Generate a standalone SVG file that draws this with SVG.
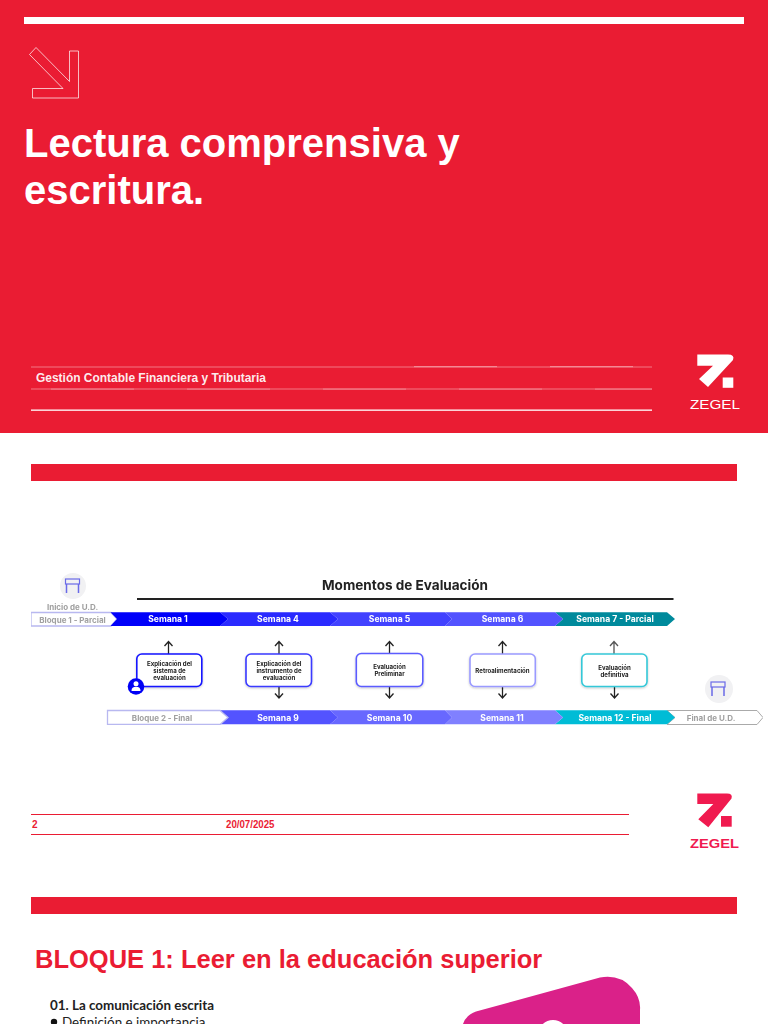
<svg xmlns="http://www.w3.org/2000/svg" width="768" height="1024" viewBox="0 0 768 1024">
<style>
.a{font-family:"Liberation Sans",Arial,sans-serif;font-weight:700}
.m{font-family:Inter,"Open Sans",sans-serif;font-weight:700;text-anchor:middle}
.w{fill:#fff;font-size:8.6px}
.g{fill:#a0a0a0;font-size:8px}
.n{fill:#222;font-size:6.1px}
.box{fill:#fff;stroke-width:1.6}
.ar{fill:none;stroke:#222;stroke-width:1.3}
.c{font-family:Lato,"Open Sans",sans-serif;fill:#222}
</style>
<defs>
<filter id="sh" x="-20%" y="-20%" width="140%" height="150%"><feDropShadow dx="0" dy="1" stdDeviation="1" flood-color="#000" flood-opacity=".22"/></filter>
<filter id="bl" x="0" y="0" width="100%" height="100%"><feGaussianBlur stdDeviation="0.3"/></filter>
<g id="gate"><rect x="-7" y="-7" width="14" height="5" fill="none" stroke="#6a6ae8" stroke-width="1.2"/><path d="M-6-2V7M6-2V7" stroke="#6a6ae8" stroke-width="1.5" fill="none"/></g>
</defs>
<rect width="768" height="1024" fill="#fff"/>
<g id="portada">
<rect width="768" height="433" fill="#ea1c33"/>
<rect x="24" y="17" width="720" height="7" fill="#fff"/>
<path d="M29.5 54.5 36 47.5 69.5 81.5V51H78.5V98H32.5V88.5H63Z" fill="none" stroke="#fff" stroke-opacity=".7" stroke-width="1"/>
<text class="a" x="24" y="157" font-size="40" fill="#fff">Lectura comprensiva y</text>
<text class="a" x="24" y="204" font-size="40" fill="#fff">escritura.</text>
<g fill="#fff">
<rect x="31" y="366.5" width="621" height="1" opacity=".4"/>
<rect x="414" y="366" width="83" height="1.2" opacity=".35"/>
<rect x="550" y="366" width="83" height="1.2" opacity=".35"/>
<rect x="31" y="388.5" width="621" height="1" opacity=".4"/>
<rect x="51" y="388.5" width="83" height="1.2" opacity=".25"/>
<rect x="187" y="388.5" width="83" height="1.2" opacity=".25"/>
<rect x="323" y="388.5" width="83" height="1.2" opacity=".25"/>
<rect x="459" y="388.5" width="83" height="1.2" opacity=".25"/>
<rect x="595" y="388.5" width="57" height="1.2" opacity=".25"/>
<rect x="31" y="409.5" width="621" height="1.3"/>
</g>
<text class="a" x="36" y="382" font-size="12" fill="#fff" fill-opacity=".93" textLength="230" lengthAdjust="spacingAndGlyphs">Gestión Contable Financiera y Tributaria</text>
</g>
<g id="logo-blanco" fill="#fff">
<path d="M697.3 354.500H728Q735 354.500 733 360L708 387 699 379 713 365.700H697.300Z"/>
<rect x="722.7" y="377.5" width="10.6" height="10.3"/>
<text x="715" y="409" font-family="Liberation Sans, sans-serif" font-size="12.5" text-anchor="middle" textLength="50" lengthAdjust="spacingAndGlyphs">ZEGEL</text>
</g>
<g id="encabezado-2"><rect x="31" y="464" width="706" height="17" fill="#ea1c33"/></g>
<g id="momentos" filter="url(#bl)">
<text class="m" x="405" y="590" font-size="13.5" fill="#222" textLength="166" lengthAdjust="spacingAndGlyphs">Momentos de Evaluación</text>
<rect x="137" y="598" width="536.500" height="2" fill="#222"/>
<g id="inicio"><circle cx="73" cy="586" r="13" fill="#f1f1f3"/><use href="#gate" x="72.500" y="586"/><text class="m g" x="72.500" y="609.500">Inicio de U.D.</text></g>
<g id="final"><circle cx="719" cy="689" r="14" fill="#f1f1f3"/><use href="#gate" x="718" y="689"/></g>
<g id="fila-1">
<path d="M31 612.500H111L117 619 111 626H31Z" fill="#fff" stroke="#b8b8f0" stroke-width="1.300"/>
<text class="m g" x="72.500" y="622.500">Bloque 1 - Parcial</text>
<path d="M555 612.300H667L675 619 667 626H555L563 619Z" fill="#058a9c"/>
<path d="M445 612.300H555L563 619 555 626H445L452 619Z" fill="#5252ff"/>
<path d="M330 612.300H445L452 619 445 626H330L338 619Z" fill="#4343ff"/>
<path d="M220 612.300H330L338 619 330 626H220L228 619Z" fill="#2a2aff"/>
<path d="M110.500 612.300H220L228 619 220 626H110.500L117 619Z" fill="#0000fa"/>
<text class="m w" x="168" y="622">Semana 1</text>
<text class="m w" x="278" y="622">Semana 4</text>
<text class="m w" x="389.500" y="622">Semana 5</text>
<text class="m w" x="502.500" y="622">Semana 6</text>
<text class="m w" x="615" y="622">Semana 7 - Parcial</text>
</g>
<g id="fila-2">
<path d="M667 710.500H757L763 717.500 757 724.500H667L675 717.500Z" fill="#fff" stroke="#aaa"/>
<path d="M555 710.300H667L675 717.500 667 724.300H555L563 717.500Z" fill="#00bcd6"/>
<path d="M445 710.300H555L563 717.500 555 724.300H445L452 717.500Z" fill="#8080ff"/>
<path d="M330 710.300H445L452 717.500 445 724.300H330L338 717.500Z" fill="#6868ff"/>
<path d="M220 710.300H330L338 717.500 330 724.300H220L228 717.500Z" fill="#5252ff"/>
<path d="M107.500 710.500H220L228 717.500 220 724.500H107.500Z" fill="#fff" stroke="#b8b8f0" stroke-width="1.300"/>
<text class="m g" x="162" y="720.500">Bloque 2 - Final</text>
<text class="m w" x="278" y="720.500">Semana 9</text>
<text class="m w" x="389.500" y="721">Semana 10</text>
<text class="m w" x="502" y="720.500">Semana 11</text>
<text class="m w" x="615" y="720.500">Semana 12 - Final</text>
<text class="m g" x="711" y="720.500">Final de U.D.</text>
</g>
<g id="conectores" class="ar">
<path d="M168.500 654V642M164.500 646 168.500 641.500 172.500 646"/>
<path d="M279 654V642M275 646 279 641.500 283 646"/>
<path d="M389.500 653V642M385.500 646 389.500 641.500 393.500 646"/>
<path d="M502.500 654V642M498.500 646 502.500 641.500 506.500 646"/>
<path d="M614 654V642M610 646 614 641.500 618 646" stroke="#555"/>
<path d="M279 687V697.500M275 693.500 279 698 283 693.500"/>
<path d="M389.500 686V697.500M385.500 693.500 389.500 698 393.500 693.500"/>
<path d="M502.500 687V697.500M498.500 693.500 502.500 698 506.500 693.500"/>
<path d="M614.500 687V697.500M610.500 693.500 614.500 698 618.500 693.500"/>
</g>
<g id="n1"><rect class="box" x="136.800" y="654" width="65" height="32.500" rx="5" stroke="#1515ff" filter="url(#sh)"/><text class="m n" x="169.500" y="665.500">Explicación del</text><text class="m n" x="169.500" y="672.500">sistema de</text><text class="m n" x="169.500" y="679.500">evaluación</text>
<circle cx="136" cy="686.500" r="8.300" fill="#0000f5"/><circle cx="136" cy="683.800" r="2.500" fill="#fff"/><path d="M131.500 691Q131.500 686.800 136 686.800T140.500 691Z" fill="#fff"/></g>
<g id="n2"><rect class="box" x="246" y="654" width="65.500" height="32.500" rx="5" stroke="#3a3aff" filter="url(#sh)"/><text class="m n" x="279" y="665.500">Explicación del</text><text class="m n" x="279" y="672.500">instrumento de</text><text class="m n" x="279" y="679.500">evaluación</text></g>
<g id="n3"><rect class="box" x="356.300" y="653.500" width="66.500" height="33" rx="5" stroke="#5c5cff" filter="url(#sh)"/><text class="m n" x="389.500" y="669">Evaluación</text><text class="m n" x="389.500" y="676">Preliminar</text></g>
<g id="n4"><rect class="box" x="470" y="654" width="65.300" height="32.500" rx="5" stroke="#9a9aff" filter="url(#sh)"/><text class="m n" x="502.500" y="672.500">Retroalimentación</text></g>
<g id="n5"><rect class="box" x="581.800" y="654" width="65.200" height="32.500" rx="5" stroke="#35c8d8" filter="url(#sh)"/><text class="m n" x="614.500" y="669.500">Evaluación</text><text class="m n" x="614.500" y="676.500">definitiva</text></g>
</g>
<g id="pie">
<rect x="31" y="814" width="598" height="1" fill="#ea1c33"/>
<rect x="31" y="834" width="598" height="1" fill="#ea1c33"/>
<text class="a" x="32" y="828" font-size="10" fill="#ea1c33">2</text>
<text class="a" x="226" y="828" font-size="10" fill="#ea1c33" textLength="48.500" lengthAdjust="spacingAndGlyphs">20/07/2025</text>
</g>
<g id="logo-rojo" fill="#f01a4f">
<path d="M697.300 793.500H727Q733 793.500 731.500 798.500L708.300 827.300 698.300 819.300 713.300 804H697.300Z"/>
<rect x="721" y="816" width="10.700" height="10.700"/>
<text class="a" x="714.500" y="847.500" font-size="12.500" text-anchor="middle" textLength="49" lengthAdjust="spacingAndGlyphs">ZEGEL</text>
</g>
<g id="encabezado-3"><rect x="31" y="897" width="706" height="17" fill="#ea1c33"/></g>
<text class="a" x="35" y="967.500" font-size="25.500" fill="#ea1c33">BLOQUE 1: Leer en la educación superior</text>
<text class="c" x="50" y="1010" font-size="13.400" font-weight="700">01. La comunicación escrita</text>
<circle cx="54" cy="1022" r="3.200" fill="#111"/>
<text class="c" x="62" y="1027" font-size="13.400">Definición e importancia</text>
<path d="M463 1024Q466 1015 476 1011.500L600 977.500Q620 974 632 988 641 998 640 1010V1024H563.200A15 15 0 0 0 542.800 1024Z" fill="#da2189"/>
</svg>
